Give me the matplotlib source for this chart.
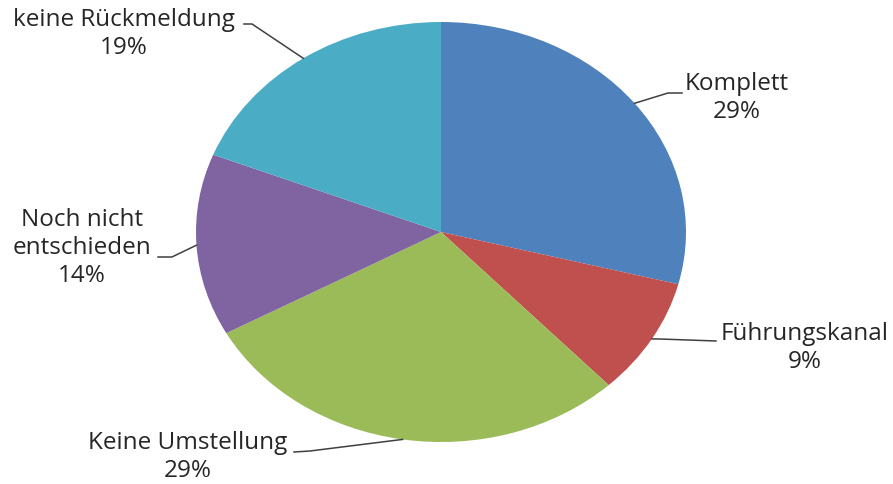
import numpy as np
import matplotlib
matplotlib.use('Agg')
from matplotlib import pyplot as plt

labels = ['Komplett', 'Führungskanal', 'Keine Umstellung', 'Noch nicht\nentschieden', 'keine Rückmeldung']
values = [29, 9, 29, 14, 19]
colors = ['#4F81BD', '#C0504D', '#9BBB59', '#8064A2', '#4BACC6']

plt.rcParams['font.family'] = ['Open Sans', 'DejaVu Sans']

# pixel layout of the reference: ellipse centre and radii
CX, CY, RX, RY = 441, 232, 245, 210
W, H = 893, 484

def px(x, y):
    return (x - CX) / RX, (CY - y) / RY

fig = plt.figure(figsize=(8.93, 4.84), dpi=100)
ax = fig.add_axes([0, 0, 1, 1])
wedges, _ = ax.pie(values, colors=colors, startangle=90, counterclock=False,
                   wedgeprops=dict(linewidth=0))
ax.set_aspect('auto')
ax.set_xlim(px(0, 0)[0], px(W, 0)[0])
ax.set_ylim(px(0, H)[1], px(0, 0)[1])
ax.axis('off')

# text centre (px), text end of leader (px), knee (px)
text_pos = [(737, 98), (805, 348), (188, 457), (82, 248), (124, 34)]
line_start = [(682, 93), (716, 341), (294, 452), (158, 257), (244, 24)]
knee = [(668, 93), (660, 339), (310, 451), (172, 257), (252, 24)]

for w, lab, v, tp, ls, kn in zip(wedges, labels, values, text_pos, line_start, knee):
    ang = np.deg2rad((w.theta1 + w.theta2) / 2)
    ex, ey = np.cos(ang), np.sin(ang)
    p0, p1 = px(*ls), px(*kn)
    ax.plot([p0[0], p1[0], ex], [p0[1], p1[1], ey], color='#404040', lw=1.1)
    ax.text(*px(*tp), f'{lab}\n{v}%', ha='center', va='center', fontsize=17.5,
            color='#262626', linespacing=1.22)

fig.savefig('out.png', dpi=100)
